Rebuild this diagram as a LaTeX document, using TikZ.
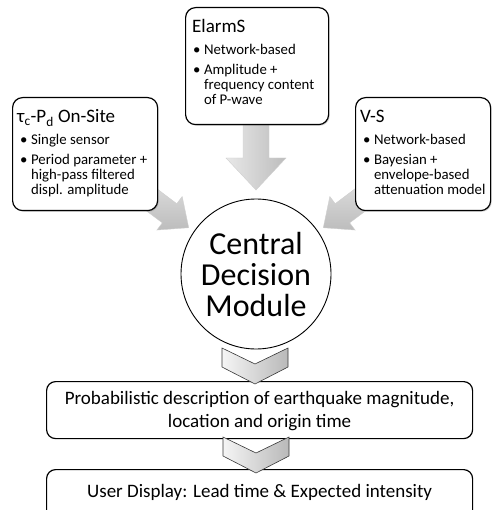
\documentclass[tikz,border=0pt]{standalone}
\usepackage{fontspec}
\setmainfont{Carlito}
\usetikzlibrary{shadows}

% bullet list with hanging indent
\newcommand\bulletlist[1]{{\fontsize{14.8}{15}\selectfont
  \begin{tabular}[t]{@{}l@{\hspace{3.5pt}}l@{}}#1\end{tabular}}}

\begin{document}
\begin{tikzpicture}[x=1pt,y=-1pt,
  panel/.style={draw=black, line width=1.2pt, rounded corners=10pt, fill=white,
    drop shadow={shadow xshift=1.2pt, shadow yshift=-1.2pt, opacity=0.3, fill=gray}},
  wide/.style={draw=black, line width=1.2pt, rounded corners=9pt, fill=white},
  title/.style={anchor=base west, inner sep=0pt, font=\fontsize{19}{22}\selectfont},
  items/.style={anchor=base west, inner sep=0pt},
  bottomtext/.style={inner sep=0pt, font=\fontsize{19}{22.5}\selectfont},
  blockarrow/.style={top color=gray!25, bottom color=gray!52, draw=gray!38, line width=0.4pt},
  chevron/.style={left color=gray!8, right color=gray!55, draw=gray!45!black, line width=0.6pt}]
\useasboundingbox (0,0) rectangle (491,510);

% end points of the three block arrows
\coordinate (aTop)  at (256,118);
\coordinate (aLeft) at (136,188);
\coordinate (aRight) at (376,188);

% block arrows (drawn first so the panels cover their tails)
\begin{scope}[shift={(aTop)}]
  \path[blockarrow, left color=gray!18, right color=gray!52]
    (-13,0) -- (-13,40) -- (-30,40) -- (0,72) -- (30,40) -- (13,40) -- (13,0) -- cycle;
\end{scope}
\begin{scope}[shift={(aLeft)}, rotate=-37]
  \path[blockarrow]
    (0,-12) -- (42,-12) -- (42,-21) -- (66,0) -- (42,21) -- (42,12) -- (0,12) -- cycle;
\end{scope}
\begin{scope}[shift={(aRight)}, rotate=-143]
  \path[blockarrow]
    (0,-12) -- (42,-12) -- (42,-21) -- (66,0) -- (42,21) -- (42,12) -- (0,12) -- cycle;
\end{scope}

% three method panels
\node[panel, anchor=north west, minimum width=145pt, minimum height=113pt] (tau) at (12,97) {};
\node[panel, anchor=north west, minimum width=143pt, minimum height=117pt] (elarms) at (185,7) {};
\node[panel, anchor=north west, minimum width=135pt, minimum height=113pt] (vs) at (355,97) {};

\node[title] at ([xshift=5pt,yshift=-26pt]tau.north west) {τ\textsubscript{c}-P\textsubscript{d} On-Site};
\node[items] at ([xshift=8pt,yshift=-48pt]tau.north west) {\bulletlist{%
  \textbullet & Single sensor\\[5pt]
  \textbullet & Period parameter +\\
              & high-pass filtered\\
              & displ. amplitude}};

\node[title] at ([xshift=7pt,yshift=-26pt]elarms.north west) {ElarmS};
\node[items] at ([xshift=8pt,yshift=-48pt]elarms.north west) {\bulletlist{%
  \textbullet & Network-based\\[5pt]
  \textbullet & Amplitude +\\
              & frequency content\\
              & of P-wave}};

\node[title] at ([xshift=5pt,yshift=-26pt]vs.north west) {V-S};
\node[items] at ([xshift=8pt,yshift=-48pt]vs.north west) {\bulletlist{%
  \textbullet & Network-based\\[5pt]
  \textbullet & Bayesian +\\
              & envelope-based\\
              & attenuation model}};

% central module
\node[circle, draw=black, line width=0.9pt, fill=white, minimum size=150pt, inner sep=0pt] (cdm) at (256,274) {};
\node[align=center, inner sep=0pt, font=\fontsize{32}{31}\selectfont] at ([yshift=-1pt]cdm.center)
  {Central\\Decision\\Module};

% output panels
\node[wide, anchor=north west, minimum width=426pt, minimum height=57pt] (prob) at (46,381) {};
\node[bottomtext, align=center] at ([yshift=-1pt]prob.center)
  {Probabilistic description of earthquake magnitude,\\location and origin time};
\node[wide, anchor=north west, minimum width=426pt, minimum height=60pt] (user) at (46,469) {};
\node[bottomtext, anchor=base] at ([yshift=-28pt]user.north)
  {User Display: Lead time \& Expected intensity};

% chevrons between the stages
\coordinate (c1) at (255,348);
\coordinate (c2) at (256,437);
\foreach \c in {c1,c2}
  \path[chevron] ([shift={(-33,0)}]\c) -- ([shift={(0,16)}]\c) -- ([shift={(33,0)}]\c)
    -- ([shift={(33,19)}]\c) -- ([shift={(0,36)}]\c) -- ([shift={(-33,19)}]\c) -- cycle;
\end{tikzpicture}
\end{document}
